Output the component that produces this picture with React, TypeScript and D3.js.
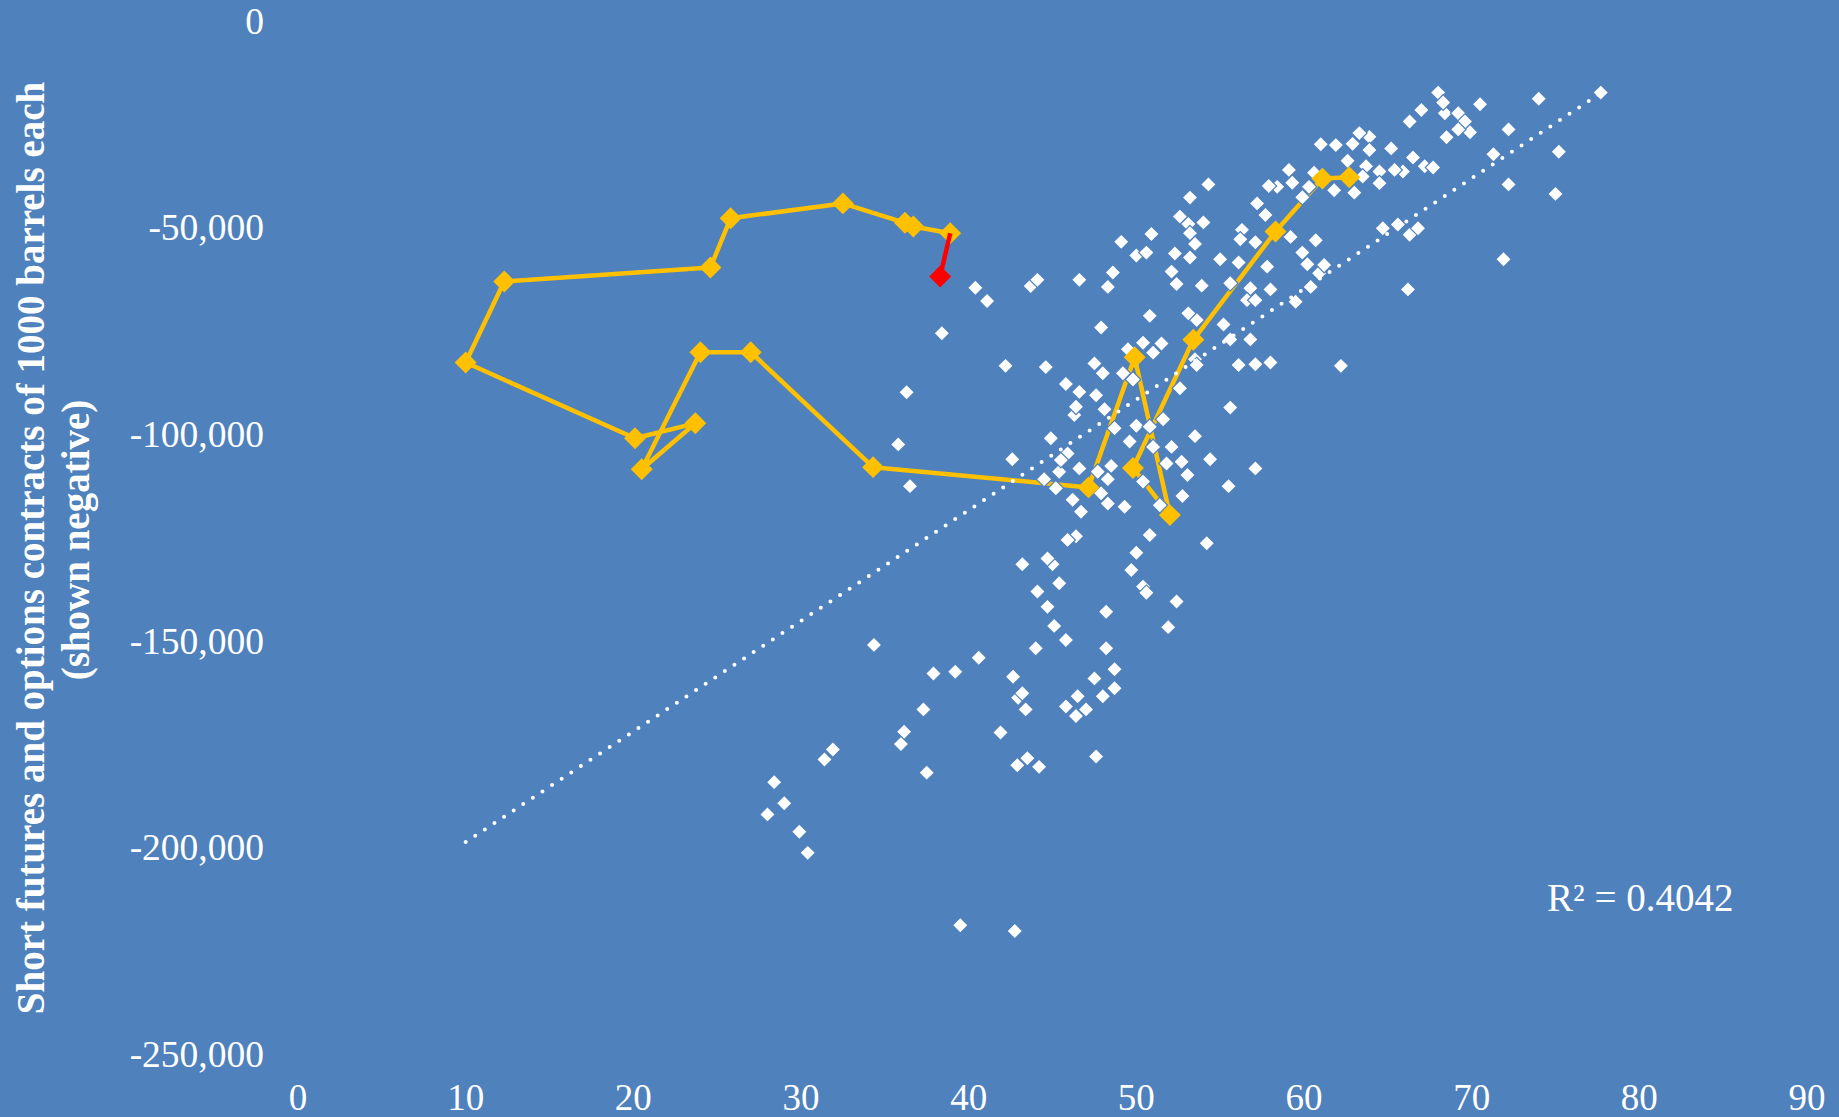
import React from 'react';
import * as d3 from 'd3';

// price (x) vs short futures+options contracts (y, shown negative)
const historyPoints: [number, number][] = [
  [54.3, -39400], [53.2, -42600], [52.6, -47200], [53.1, -49000], [54.0, -48600], [53.2, -51200],
  [53.5, -53800], [53.2, -57100], [52.3, -56100], [50.9, -51400], [49.1, -53300], [50.0, -56600],
  [50.6, -55900], [48.6, -60700], [48.3, -64200], [46.6, -62500], [43.7, -64000], [44.1, -62500],
  [40.4, -64400], [41.1, -67600], [38.4, -75400], [42.2, -83300], [44.6, -83600], [47.9, -74000],
  [50.8, -71200], [52.1, -60500], [52.4, -63500], [53.9, -63900], [55.0, -57500], [56.1, -58300],
  [56.3, -50400], [56.2, -52700], [57.2, -44000], [57.1, -53400], [55.6, -63300], [56.8, -64500],
  [56.6, -67400], [57.1, -67400], [53.6, -72200], [53.1, -70600], [55.2, -73300], [55.6, -76900],
  [56.8, -76900], [50.4, -77700], [51.5, -77900], [51.0, -80100], [49.5, -79300], [53.5, -81700],
  [47.5, -82700], [48.0, -85100], [49.2, -85100], [49.8, -86600], [45.8, -87700], [46.6, -89600],
  [47.6, -90400], [52.6, -88700], [56.1, -83100], [57.1, -82900], [53.6, -83100],
  [68.0, -17200], [68.4, -22200], [68.3, -19600], [69.2, -22200], [69.6, -24200], [69.9, -26800],
  [69.2, -26100], [68.5, -28000], [70.5, -20000], [74.0, -18700], [77.7, -17200], [67.0, -21400],
  [66.3, -24200], [72.2, -26100], [75.2, -31500], [72.2, -39400], [75.0, -41700], [71.3, -32100],
  [71.9, -57500], [66.2, -64800], [62.2, -83300], [58.0, -82500], [66.5, -32900], [67.2, -35000],
  [67.7, -35300], [65.9, -36300], [65.4, -35900], [65.2, -30700], [63.9, -27900], [63.3, -27000],
  [62.9, -29600], [63.9, -31100], [61.9, -29900], [61.0, -29700], [62.6, -33700], [63.7, -35000],
  [64.5, -36300], [64.5, -39100], [63.5, -37500], [63.0, -41400], [61.8, -40800], [59.1, -35900],
  [59.3, -39000], [58.4, -40000], [57.9, -39800], [60.3, -40000], [59.9, -42500], [60.6, -36600],
  [57.7, -46800], [59.2, -52100], [60.7, -52900], [59.9, -55900], [60.2, -58700], [60.9, -60900],
  [61.2, -58900], [57.8, -59300], [58.0, -64800], [59.5, -67800], [60.4, -64200], [64.7, -50000],
  [65.6, -49100], [66.3, -51600], [66.8, -50000],
  [46.3, -95200], [46.4, -93200], [48.1, -93800], [48.7, -98400], [50.0, -97800], [50.8, -98000],
  [51.6, -96200], [53.5, -100300], [55.6, -93400], [57.1, -108100], [54.4, -105900], [55.5, -112400],
  [52.75, -114800], [53.05, -109700], [52.7, -106500], [52.1, -102900], [51.8, -106900], [51.0, -102900],
  [49.6, -101600], [50.4, -111300], [51.4, -117000], [49.3, -117400], [48.3, -116600], [48.5, -107500],
  [48.3, -110700], [47.7, -108900], [47.9, -114100], [46.6, -108100], [45.4, -108900], [44.5, -110700],
  [45.2, -112900], [46.2, -115700], [46.7, -118600], [44.9, -100800], [42.6, -105900], [45.9, -104500],
  [45.5, -106100], [46.4, -124500], [45.9, -125400], [50.8, -124200], [50.0, -128500], [49.7, -132700],
  [50.4, -136700], [50.6, -138200], [54.2, -126200], [52.4, -140300], [51.9, -146500], [48.2, -142800],
  [48.2, -151600], [48.7, -156700], [48.7, -161300], [48.0, -163200], [47.5, -158900], [46.5, -163200],
  [47.0, -166400], [45.8, -165700], [46.4, -168000], [43.2, -131300], [45.0, -131300], [44.7, -129900],
  [45.4, -135900], [44.1, -137900], [44.7, -141600], [45.1, -146200], [45.8, -149600], [44.0, -151600],
  [40.6, -153900], [39.2, -157300], [42.65, -158500], [42.95, -163600], [43.4, -166400],
  [34.35, -150800], [37.9, -157700], [43.2, -162500], [41.9, -172000], [37.3, -166400], [36.15, -171800],
  [35.96, -174800], [37.5, -181700], [31.9, -176100], [31.4, -178500], [28.4, -184000], [29.0, -189100],
  [28.0, -191800], [29.9, -196000], [30.4, -201100], [39.5, -218600], [42.75, -220000], [43.5, -178200],
  [42.9, -179900], [44.2, -180300], [47.6, -177800],
  [36.3, -89700], [35.8, -102300], [36.5, -112400],
];

// recent weeks, oldest first
const pathPoints: [number, number][] = [
  [62.7, -37700], [61.1, -38000], [58.3, -50800], [53.4, -77000], [49.8, -108000], [52.0, -119400],
  [49.9, -81200], [47.15, -112700], [34.3, -107800], [27.0, -80000], [24.0, -80000], [20.5, -108300],
  [23.7, -97200], [20.1, -100800], [10.0, -82500], [12.3, -62900], [24.6, -59500], [25.8, -47600],
  [32.5, -44000], [36.2, -48700], [36.7, -49600], [38.9, -51200],
];
const latestPoint: [number, number] = [38.3, -61700];

const xTicks = [0, 10, 20, 30, 40, 50, 60, 70, 80, 90];
const yTicks = [0, -50000, -100000, -150000, -200000, -250000];

const trendSlope = 2676;
const trendIntercept = -225260;
const rSquaredLabel = 'R\u00b2 = 0.4042';

const yTitle = ['Short futures and options contracts of 1000 barrels each', '(shown negative)'];

const fmt = d3.formatLocale({ decimal: '.', thousands: ',', grouping: [3], currency: ['$', ''], minus: '-' }).format(',');

export default function App() {
  const width = 1839;
  const height = 1117;
  const font = '"Liberation Serif", "Times New Roman", serif';

  const x = d3.scaleLinear().domain([0, 90]).range([298, 1807]);
  const y = d3.scaleLinear().domain([-250000, 0]).range([1055, 21.5]);

  const line = d3.line<[number, number]>()
    .x(d => x(d[0]))
    .y(d => y(d[1]));

  const smallDiamond = d3.symbol(d3.symbolSquare, 122)();
  const bigDiamond = d3.symbol(d3.symbolSquare, 240)();

  // trendline over the whole x range of the data
  const allX = historyPoints.map(d => d[0]).concat(pathPoints.map(d => d[0]), [latestPoint[0]]);
  const [xMin, xMax] = d3.extent(allX) as [number, number];
  const trend: [number, number][] = [
    [xMin, trendSlope * xMin + trendIntercept],
    [xMax, trendSlope * xMax + trendIntercept],
  ];

  const lastPath = pathPoints[pathPoints.length - 1];

  return (
    <svg
      width={width}
      height={height}
      style={{ position: 'absolute', left: 0, top: 0, display: 'block' }}
      fontFamily={font}
    >
      <rect width={width} height={height} fill="#4F81BD" />

      {/* recent path line */}
      <path d={line(pathPoints) || ''} fill="none" stroke="#FFC000" strokeWidth={4.5} strokeLinejoin="round" />

      {/* history scatter */}
      {historyPoints.map((d, i) => (
        <path
          key={i}
          d={smallDiamond || ''}
          transform={`translate(${x(d[0])},${y(d[1])}) rotate(45)`}
          fill="#fff"
          stroke="#4F81BD"
          strokeWidth={1.2}
        />
      ))}

      {pathPoints.map((d, i) => (
        <path
          key={'p' + i}
          d={bigDiamond || ''}
          transform={`translate(${x(d[0])},${y(d[1])}) rotate(45)`}
          fill="#FFC000"
        />
      ))}

      {/* latest week */}
      <path d={line([lastPath, latestPoint]) || ''} fill="none" stroke="#FF0000" strokeWidth={4.5} />
      <path
        d={bigDiamond || ''}
        transform={`translate(${x(latestPoint[0])},${y(latestPoint[1])}) rotate(45)`}
        fill="#FF0000"
      />

      {/* linear trendline */}
      <path
        d={line(trend) || ''}
        fill="none"
        stroke="#fff"
        strokeWidth={4}
        strokeLinecap="round"
        strokeDasharray="0 11.5"
      />

      {yTicks.map(t => (
        <text key={t} x={264} y={y(t) + 12} textAnchor="end" fill="#fff" fontSize={37.5}>
          {fmt(t)}
        </text>
      ))}

      {xTicks.map(t => (
        <text key={t} x={x(t)} y={1110} textAnchor="middle" fill="#fff" fontSize={37}>
          {t}
        </text>
      ))}

      <text transform="translate(44,548) rotate(-90)" textAnchor="middle" fill="#fff" fontSize={39} fontWeight="bold">
        {yTitle[0]}
      </text>
      <text transform="translate(89,540) rotate(-90)" textAnchor="middle" fill="#fff" fontSize={39} fontWeight="bold">
        {yTitle[1]}
      </text>

      <text x={1547} y={911} fill="#fff" fontSize={39}>
        {rSquaredLabel}
      </text>
    </svg>
  );
}
